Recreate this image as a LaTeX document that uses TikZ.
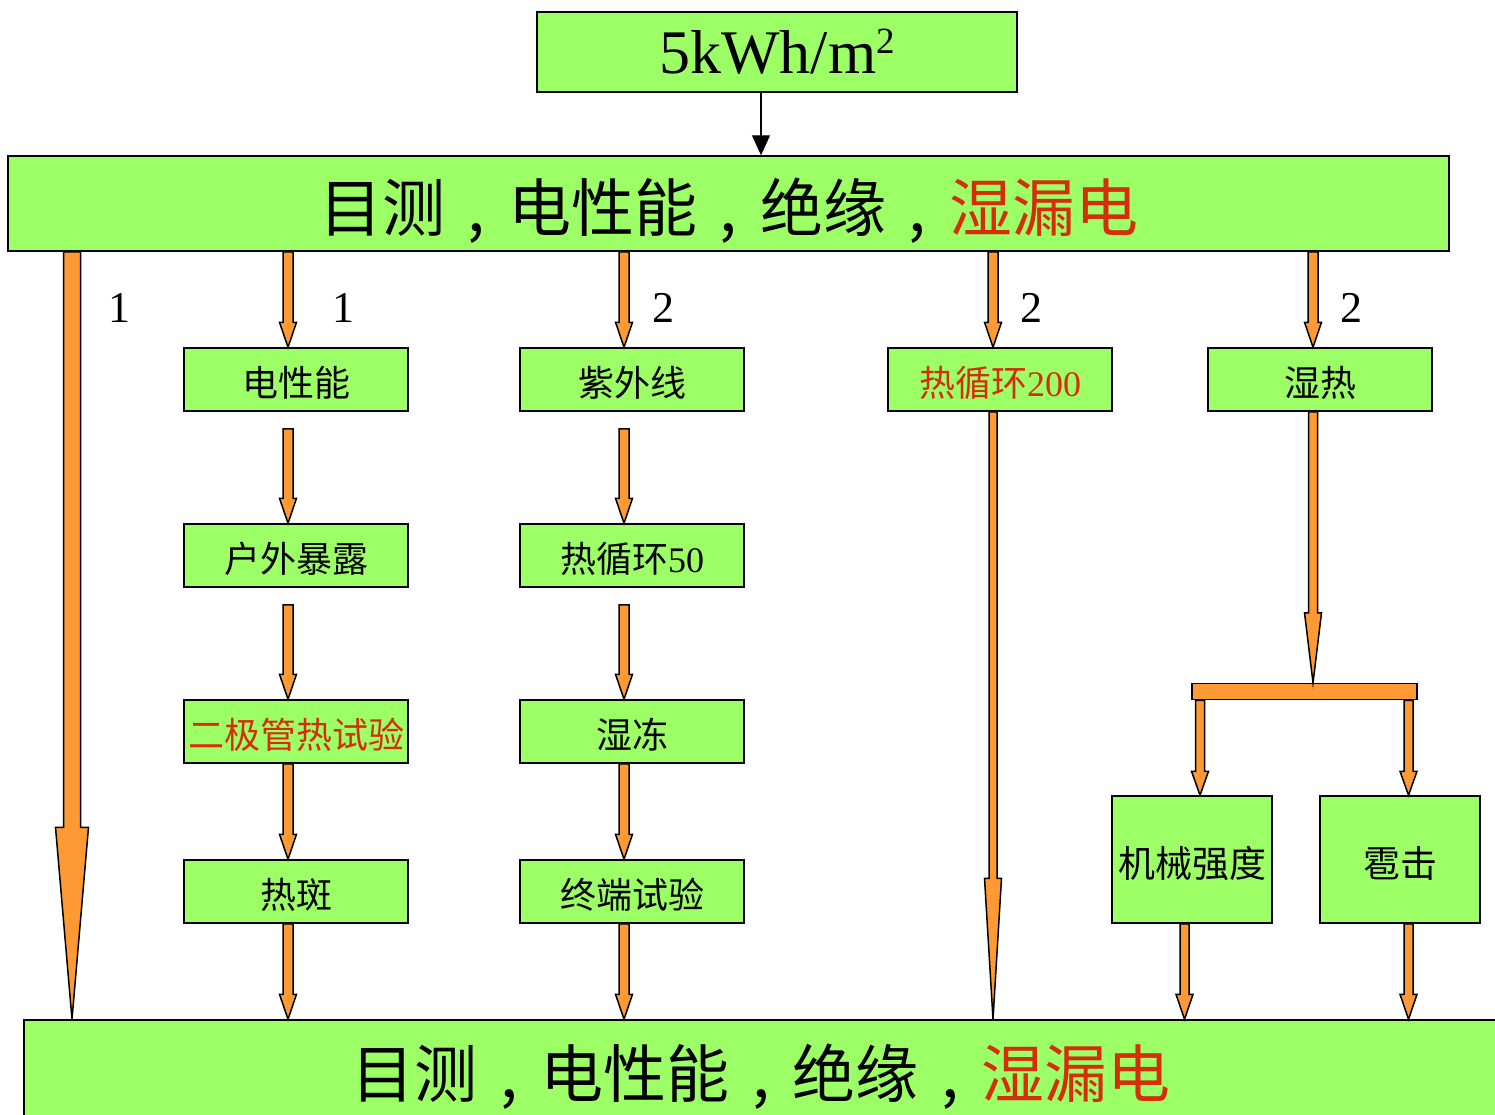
\documentclass[tikz,border=0pt]{standalone}
\usepackage{fontspec}
\setmainfont{Liberation Serif}
\newfontfamily\cjk{Noto Sans CJK SC}
\usetikzlibrary{calc,arrows.meta}
\definecolor{boxgreen}{RGB}{156,255,102}
\definecolor{arrorange}{RGB}{255,153,51}
\definecolor{txtred}{RGB}{214,46,12}
\tikzset{
  box/.style={draw=black, line width=1.5pt, fill=boxgreen, minimum width=224pt,
    minimum height=63pt, inner sep=0pt, font=\fontsize{36}{40}\selectfont\cjk},
  bigbox/.style={box, font=\fontsize{63}{66}\selectfont\cjk},
  blk/.style={draw=black, line width=1.5pt, fill=arrorange, line join=miter},
  num/.style={font=\fontsize{44}{48}\selectfont, inner sep=0pt},
}
\newcommand\cjkcomma{\makebox[1em][c]{,}}
\newcommand\lowered[2]{\raisebox{-#1}[\height][\depth]{#2}}
\newcommand\blockarrow[5]{%
  \draw[blk] let \p1=(#1), \p2=(#2) in
   (\x1-#3pt,\y1) -- (\x1+#3pt,\y1) -- (\x1+#3pt,\y2+#5pt) -- (\x1+#4pt,\y2+#5pt)
   -- (\x1,\y2) -- (\x1-#4pt,\y2+#5pt) -- (\x1-#3pt,\y2+#5pt) -- cycle;}
\begin{document}
\begin{tikzpicture}[x=1pt,y=-1pt]
\useasboundingbox (0,0) rectangle (1495,1114);
\clip (0,0) rectangle (1495,1114);
% column guides
\coordinate (x0) at (72,0);
\coordinate (x1) at (288,0);
\coordinate (x2) at (624,0);
\coordinate (x3) at (993,0);
\coordinate (x4) at (1313,0);
\coordinate (x5) at (1200,0);
\coordinate (x6) at (1408.5,0);
\coordinate (x7) at (1184.5,0);
\coordinate (xb) at (761,0);
% boxes
\node[box, minimum width=480pt, minimum height=80pt, font=\fontsize{62}{66}\selectfont] (top) at (777,52) {5kWh/m\raisebox{20pt}{\fontsize{37}{37}\selectfont 2}};
\node[bigbox, minimum width=1441pt, minimum height=95pt] (m1) at (728.5,203.5) {\lowered{7pt}{目测\cjkcomma 电性能\cjkcomma 绝缘\cjkcomma\textcolor{txtred}{湿漏电}}};
\node[bigbox, minimum width=1474pt, minimum height=104pt] (bot) at (761,1072) {\lowered{5pt}{目测\cjkcomma 电性能\cjkcomma 绝缘\cjkcomma\textcolor{txtred}{湿漏电}}};

\node[box] (b1) at (296,379.5) {\lowered{3.5pt}{电性能}};
\node[box] (b2) at (296,555.5) {\lowered{3.5pt}{户外暴露}};
\node[box, text=txtred] (b3) at (296,731.5) {\lowered{3.5pt}{二极管热试验}};
\node[box] (b4) at (296,891.5) {\lowered{3.5pt}{热斑}};

\node[box] (c1) at (632,379.5) {\lowered{3.5pt}{紫外线}};
\node[box] (c2) at (632,555.5) {\lowered{3.5pt}{热循环{\rmfamily 50}}};
\node[box] (c3) at (632,731.5) {\lowered{3.5pt}{湿冻}};
\node[box] (c4) at (632,891.5) {\lowered{3.5pt}{终端试验}};

\node[box, text=txtred] (d1) at (1000,379.5) {\lowered{3.5pt}{热循环{\rmfamily 200}}};
\node[box] (e1) at (1320,379.5) {\lowered{3.5pt}{湿热}};

\node[box, minimum width=225pt, minimum height=16pt, fill=arrorange] (bar) at (1304.5,691.5) {};
\node[box, minimum width=160pt, minimum height=127pt, font=\fontsize{37}{40}\selectfont\cjk] (mech) at (1192,859.5) {\lowered{3.5pt}{机械强度}};
\node[box, minimum width=160pt, minimum height=127pt, font=\fontsize{37}{40}\selectfont\cjk] (hail) at (1400,859.5) {\lowered{3.5pt}{雹击}};

% labels
\node[num] (l0) at (119,308) {1};
\node[num] (l1) at (343,308) {1};
\node[num] (l2) at (663,308) {2};
\node[num] (l3) at (1031,308) {2};
\node[num] (l4) at (1351,308) {2};

% connectors
\draw[line width=1.2pt, -{Triangle[width=18pt,length=20pt]}] (xb |- top.south) -- (xb |- m1.north);

\blockarrow{x0 |- m1.south}{x0 |- bot.north}{8.5}{16.5}{192}

\blockarrow{x1 |- m1.south}{x1 |- b1.north}{5}{8.5}{25}
\blockarrow{$(x1 |- b1.south)+(0,17)$}{x1 |- b2.north}{5}{8.5}{25}
\blockarrow{$(x1 |- b2.south)+(0,17)$}{x1 |- b3.north}{5}{8.5}{25}
\blockarrow{x1 |- b3.south}{x1 |- b4.north}{5}{8.5}{25}
\blockarrow{x1 |- b4.south}{x1 |- bot.north}{5}{8.5}{25}

\blockarrow{x2 |- m1.south}{x2 |- c1.north}{5}{8.5}{25}
\blockarrow{$(x2 |- c1.south)+(0,17)$}{x2 |- c2.north}{5}{8.5}{25}
\blockarrow{$(x2 |- c2.south)+(0,17)$}{x2 |- c3.north}{5}{8.5}{25}
\blockarrow{x2 |- c3.south}{x2 |- c4.north}{5}{8.5}{25}
\blockarrow{x2 |- c4.south}{x2 |- bot.north}{5}{8.5}{25}

\blockarrow{x3 |- m1.south}{x3 |- d1.north}{5}{8.5}{25}
\blockarrow{x3 |- d1.south}{x3 |- bot.north}{4}{8.5}{141}

\blockarrow{x4 |- m1.south}{x4 |- e1.north}{5}{8.5}{25}
\blockarrow{x4 |- e1.south}{x4 |- bar.north}{4.5}{8.5}{70}

\blockarrow{x5 |- bar.south}{x5 |- mech.north}{4.5}{8.5}{24}
\blockarrow{x6 |- bar.south}{x6 |- hail.north}{4.5}{8.5}{24}

\blockarrow{x7 |- mech.south}{x7 |- bot.north}{4.5}{8.5}{25}
\blockarrow{x6 |- hail.south}{x6 |- bot.north}{4.5}{8.5}{25}
\end{tikzpicture}
\end{document}
